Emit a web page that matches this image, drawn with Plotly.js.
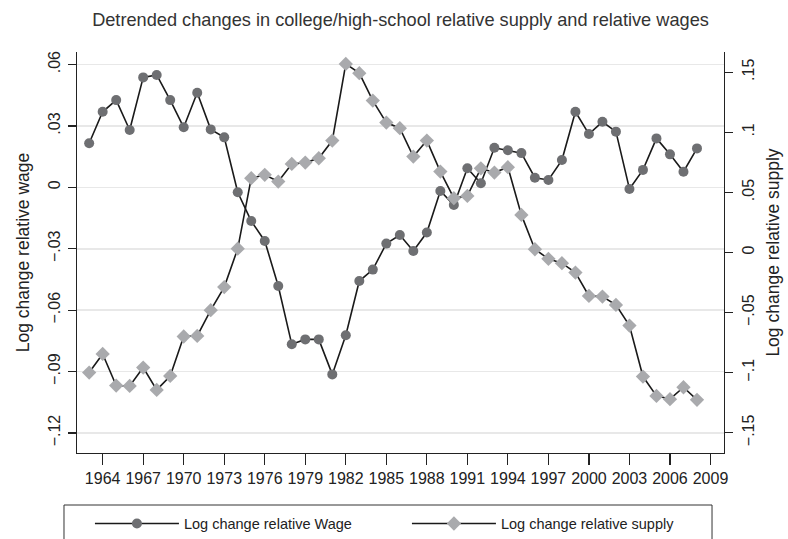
<!DOCTYPE html>
<html>
<head>
<meta charset="utf-8">
<script src="https://cdn.plot.ly/plotly-3.0.1.min.js"></script>
<style>html,body{margin:0;padding:0;background:#fff;}#chart{width:788px;height:539px;}</style>
</head>
<body>
<div id="chart"></div>
<script>
const years = [1963,1964,1965,1966,1967,1968,1969,1970,1971,1972,1973,1974,1975,1976,1977,1978,1979,1980,1981,1982,1983,1984,1985,1986,1987,1988,1989,1990,1991,1992,1993,1994,1995,1996,1997,1998,1999,2000,2001,2002,2003,2004,2005,2006,2007,2008];
const wage = [0.0215,0.0369,0.0426,0.0280,0.0537,0.0549,0.0426,0.0293,0.0462,0.0283,0.0244,-0.0024,-0.0165,-0.0262,-0.0482,-0.0767,-0.0743,-0.0743,-0.0914,-0.0723,-0.0458,-0.0402,-0.0275,-0.0233,-0.0311,-0.0221,-0.0018,-0.0086,0.0093,0.0020,0.0193,0.0181,0.0167,0.0047,0.0036,0.0133,0.0369,0.0260,0.0320,0.0272,-0.0008,0.0085,0.0239,0.0161,0.0076,0.0190];
const supply = [-0.0999,-0.0844,-0.1107,-0.1110,-0.0957,-0.1143,-0.1027,-0.0699,-0.0694,-0.0480,-0.0288,0.0032,0.0618,0.0646,0.0590,0.0737,0.0748,0.0784,0.0931,0.1569,0.1492,0.1264,0.1081,0.1034,0.0798,0.0931,0.0673,0.0452,0.0471,0.0700,0.0665,0.0710,0.0313,0.0027,-0.0053,-0.0089,-0.0167,-0.0361,-0.0367,-0.0436,-0.0608,-0.1032,-0.1193,-0.1220,-0.1121,-0.1226];
const xTicks = [1964,1967,1970,1973,1976,1979,1982,1985,1988,1991,1994,1997,2000,2003,2006,2009];
const wageTicks = [-0.12,-0.09,-0.06,-0.03,0,0.03,0.06];
const wageTickText = ["\u2212.12","\u2212.09","\u2212.06","\u2212.03","0",".03",".06"];
const supplyTicks = [-0.15,-0.1,-0.05,0,0.05,0.1,0.15];
const supplyTickText = ["\u2212.15","\u2212.1","\u2212.05","0",".05",".1",".15"];

const FONT = "Liberation Sans, Arial, Helvetica, sans-serif";
const traces = [
  {x: years, y: wage, name: "Log change relative Wage", type: "scatter", mode: "lines+markers",
   line: {color: "#1a1a1a", width: 1.6},
   marker: {symbol: "circle", size: 10, color: "#6e6f72"}, yaxis: "y"},
  {x: years, y: supply, name: "Log change relative supply", type: "scatter", mode: "lines+markers",
   line: {color: "#1a1a1a", width: 1.6},
   marker: {symbol: "diamond", size: 11, color: "#a9aaad"}, yaxis: "y2"}
];
const layout = {
  width: 788, height: 539,
  margin: {l: 77, r: 64, t: 52, b: 86, autoexpand: false},
  paper_bgcolor: "#fff", plot_bgcolor: "#fff",
  font: {family: FONT, color: "#222", size: 16},
  title: {text: "Detrended changes in college/high-school relative supply and relative wages",
          font: {size: 18.2, color: "#333"}, x: 0.5, xref: "paper", xanchor: "center", y: 0.963, yanchor: "middle"},
  xaxis: {range: [1962.1, 2010.0], tickvals: xTicks, ticks: "outside", ticklen: 11, tickwidth: 1.2,
          tickcolor: "#222", showline: true, linecolor: "#222", linewidth: 1.2, showgrid: false,
          zeroline: false, tickfont: {size: 16, color: "#222"}},
  yaxis: {range: [-0.1298, 0.0661], tickvals: wageTicks, ticktext: wageTickText, tickangle: -90,
          ticks: "outside", ticklen: 8, tickwidth: 1.2, tickcolor: "#222",
          showline: true, linecolor: "#222", linewidth: 1.2,
          showgrid: true, gridcolor: "#e8e8e8", gridwidth: 1.6, zeroline: false,
          tickfont: {size: 16, color: "#222"}, ticklabelstandoff: 1,
          title: {text: "Log change relative wage", font: {size: 17.5, color: "#222"}, standoff: 12}},
  yaxis2: {range: [-0.1668, 0.1668], tickvals: supplyTicks, ticktext: supplyTickText, tickangle: -90,
          overlaying: "y", side: "right",
          ticks: "outside", ticklen: 8, tickwidth: 1.2, tickcolor: "#222",
          showline: true, linecolor: "#222", linewidth: 1.2, showgrid: false, zeroline: false,
          tickfont: {size: 16, color: "#222"}, ticklabelstandoff: 2,
          title: {text: "Log change relative supply", font: {size: 17.5, color: "#222"}, standoff: 10}},
  showlegend: true,
  legend: {orientation: "h", x: 0.02, xanchor: "left", y: -0.176, yanchor: "middle",
           itemwidth: 84, entrywidth: 218, entrywidthmode: "pixels",
           font: {size: 14.5, color: "#222"}, bgcolor: "rgba(0,0,0,0)", borderwidth: 0,
           itemclick: false, traceorder: "normal"},
  shapes: [{type: "rect", xref: "paper", yref: "paper", x0: -0.0201, x1: 0.9815, y0: -0.1297, y1: -0.235,
            line: {color: "#333", width: 1}, fillcolor: "rgba(0,0,0,0)", layer: "below"}]
};
Plotly.newPlot("chart", traces, layout, {displayModeBar: false, staticPlot: true});
</script>
</body>
</html>
